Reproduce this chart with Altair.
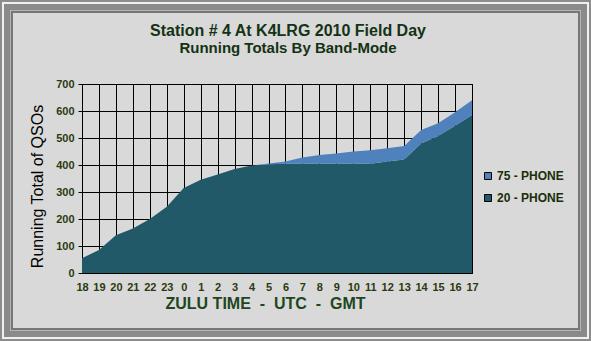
import altair as alt
import pandas as pd

hours = ["18", "19", "20", "21", "22", "23", "0", "1", "2", "3", "4", "5",
         "6", "7", "8", "9", "10", "11", "12", "13", "14", "15", "16", "17"]
phone20 = [55, 85, 140, 165, 200, 245, 315, 345, 365, 385, 398, 403,
           405, 405, 405, 405, 405, 405, 413, 420, 480, 507, 545, 585]
phone75 = [0, 0, 0, 0, 0, 0, 0, 0, 0, 0, 0, 3,
           8, 23, 32, 38, 45, 50, 49, 50, 50, 48, 50, 55]
series = ["75 - PHONE", "20 - PHONE"]
colors = ["#4F81BD", "#215968"]
title_lines = ["Station # 4 At K4LRG 2010 Field Day", "Running Totals By Band-Mode"]

rows = []
for h, a, b in zip(hours, phone20, phone75):
    rows.append({"hour": h, "band": "20 - PHONE", "qsos": a, "ord": 0})
    rows.append({"hour": h, "band": "75 - PHONE", "qsos": b, "ord": 1})
df = pd.DataFrame(rows)

W, H = 390, 189
PL, PT = 82, 84
TOTW, TOTH = 591, 341
NB = "\u00a0"

area = alt.Chart(df).mark_area(opacity=1, interpolate="linear").encode(
    x=alt.X("hour:O", sort=hours, scale=alt.Scale(padding=0),
            axis=alt.Axis(title=f"ZULU TIME {NB}-{NB} UTC {NB}-{NB} GMT", labelAngle=0,
                          grid=True, gridColor="#000000", gridWidth=1,
                          ticks=False, domain=False, labelPadding=8,
                          labelFont="Liberation Sans", labelFontSize=11,
                          labelFontWeight="bold", labelColor="#2B3A0E",
                          titleFont="Liberation Sans", titleFontSize=16,
                          titleFontWeight="bold", titleColor="#1E4620",
                          titlePadding=3, titleX=183)),
    y=alt.Y("qsos:Q", stack="zero", scale=alt.Scale(domain=[0, 700], nice=False),
            axis=alt.Axis(title="Running Total of QSOs", values=list(range(0, 701, 100)),
                          grid=True, gridColor="#000000", gridWidth=1,
                          domainColor="#000000", domainWidth=1,
                          tickColor="#000000", tickSize=4,
                          labelFont="Liberation Sans", labelFontSize=11,
                          labelFontWeight="bold", labelColor="#2B3A0E", labelPadding=4,
                          titleFont="Liberation Sans", titleFontSize=16,
                          titleFontWeight="normal", titleColor="#000000",
                          titlePadding=10, titleY=102)),
    color=alt.Color("band:N", scale=alt.Scale(domain=series, range=colors),
                    legend=alt.Legend(title=None, orient="none", legendX=400, legendY=86,
                                      symbolType="square", symbolSize=49,
                                      symbolStrokeColor="#000000", symbolStrokeWidth=1,
                                      labelFont="Liberation Sans", labelFontSize=12,
                                      labelFontWeight="bold", labelColor="#1A2E0A",
                                      rowPadding=10, labelOffset=3)),
    order=alt.Order("ord:Q"),
)

frame_df = pd.DataFrame({"k": [0]})


def ring(off, width, color):
    c = off + width / 2.0
    return alt.Chart(frame_df).mark_rect(filled=False, stroke=color, strokeWidth=width).encode(
        x=alt.value(c - PL), x2=alt.value(TOTW - c - PL),
        y=alt.value(c - PT), y2=alt.value(TOTH - c - PT),
    )


frame = (ring(0, 2, "#8C8C8C") + ring(2, 2, "#F0F0F0") + ring(4, 6, "#8A8A8A")
         + ring(10, 1, "#B4B4B4") + ring(11, 2, "#777777"))

t_df = pd.DataFrame({"line": title_lines})
title1 = alt.Chart(t_df.iloc[[0]]).mark_text(
    font="Liberation Sans", fontSize=16, fontWeight="bold", color="#143214",
    align="center", baseline="alphabetic").encode(
    text="line:N", x=alt.value(288 - PL), y=alt.value(36 - PT))
title2 = alt.Chart(t_df.iloc[[1]]).mark_text(
    font="Liberation Sans", fontSize=15, fontWeight="bold", color="#143214",
    align="center", baseline="alphabetic").encode(
    text="line:N", x=alt.value(288 - PL), y=alt.value(53 - PT))

chart = alt.layer(frame, area, title1, title2).properties(
    width=W, height=H,
    autosize=alt.AutoSizeParams(type="none"),
    padding={"left": PL, "top": PT, "right": TOTW - PL - W, "bottom": TOTH - PT - H},
).configure(background="#D9D9D9").configure_view(stroke="#000000", strokeWidth=1)

chart.save("out.html", embed_options={"renderer": "svg", "actions": False})
